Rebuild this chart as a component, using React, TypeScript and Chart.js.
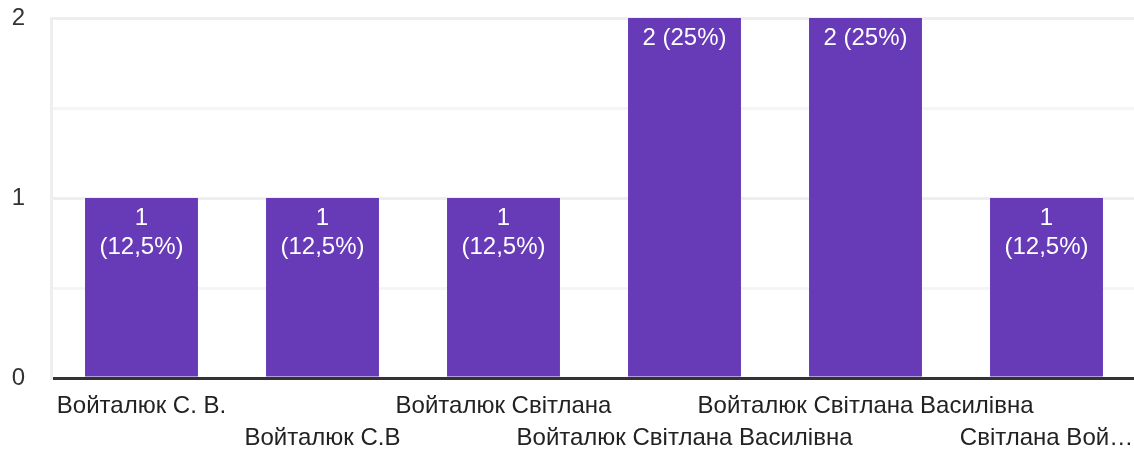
import React, { useEffect, useRef } from "react";
import { Chart, registerables } from "chart.js";

Chart.register(...registerables);

const categories = [
  "Войталюк С. В.",
  "Войталюк С.В",
  "Войталюк Світлана",
  "Войталюк Світлана Василівна",
  "Войталюк Світлана Василівна",
  "Світлана Вой…",
];
const counts = [1, 1, 1, 2, 2, 1];
const yTickLabels = ["0", "1", "2"];

const FONT = "'Liberation Sans', Arial, sans-serif";
const BAR_COLOR = "#673ab7";

const barLabelPlugin = {
  id: "barLabels",
  afterDatasetsDraw(chart: any) {
    const ctx = chart.ctx;
    const meta = chart.getDatasetMeta(0);
    const data = chart.data.datasets[0].data as number[];
    const total = data.reduce((a, b) => a + b, 0);
    ctx.save();
    ctx.fillStyle = "#ffffff";
    ctx.font = `24px ${FONT}`;
    ctx.textAlign = "center";
    ctx.textBaseline = "middle";
    meta.data.forEach((bar: any, i: number) => {
      const v = data[i];
      const pct = ((v / total) * 100).toString().replace(".", ",");
      const full = `${v} (${pct}%)`;
      const w = bar.width;
      if (ctx.measureText(full).width <= w - 16) {
        ctx.fillText(full, bar.x, bar.y + 20);
      } else {
        ctx.fillText(`${v}`, bar.x, bar.y + 20);
        ctx.fillText(`(${pct}%)`, bar.x, bar.y + 49);
      }
    });
    ctx.restore();
  },
};

export default function App() {
  const ref = useRef<HTMLCanvasElement | null>(null);
  useEffect(() => {
    if (!ref.current) return;
    const chart = new Chart(ref.current, {
      type: "bar",
      data: {
        labels: categories,
        datasets: [
          {
            data: counts,
            backgroundColor: BAR_COLOR,
            barPercentage: 0.624,
            categoryPercentage: 1,
          },
        ],
      },
      options: {
        animation: false,
        responsive: true,
        maintainAspectRatio: false,
        layout: { padding: { top: 18, right: 0, left: 0, bottom: 0 } },
        plugins: { legend: { display: false }, tooltip: { enabled: false } },
        scales: {
          x: {
            grid: { display: false, drawTicks: false },
            border: { color: "#333333", width: 3 },
            afterFit: (s: any) => {
              s.height = 72;
              s.paddingLeft = 0;
              s.paddingRight = 0;
            },
            ticks: {
              autoSkip: false,
              maxRotation: 0,
              minRotation: 0,
              padding: 12,
              color: "#222222",
              font: { family: FONT, size: 24, lineHeight: 1.333 },
              callback: (_v: any, i: number) =>
                i % 2 === 1 ? ["", categories[i]] : categories[i],
            },
          },
          y: {
            min: 0,
            max: 2,
            afterFit: (s: any) => {
              s.width = 51;
              s.paddingTop = 0;
              s.paddingBottom = 0;
            },
            border: { color: "#eeeeee", width: 3 },
            grid: {
              drawTicks: false,
              color: (c: any) =>
                Number.isInteger(c.tick.value) ? "#eeeeee" : "#f5f5f5",
              lineWidth: 3,
            },
            ticks: {
              stepSize: 0.5,
              padding: 26,
              color: "#333333",
              font: { family: FONT, size: 24 },
              callback: (v: any) =>
                Number.isInteger(v) ? yTickLabels[v] : "",
            },
          },
        },
      },
      plugins: [barLabelPlugin],
    });
    return () => chart.destroy();
  }, []);

  return (
    <div
      style={{
        position: "fixed",
        left: 0,
        top: 0,
        width: 1134,
        height: 450,
        overflow: "hidden",
        background: "#fff",
      }}
    >
      <div style={{ width: 1137, height: 450, position: "relative" }}>
        <canvas ref={ref} />
      </div>
    </div>
  );
}
